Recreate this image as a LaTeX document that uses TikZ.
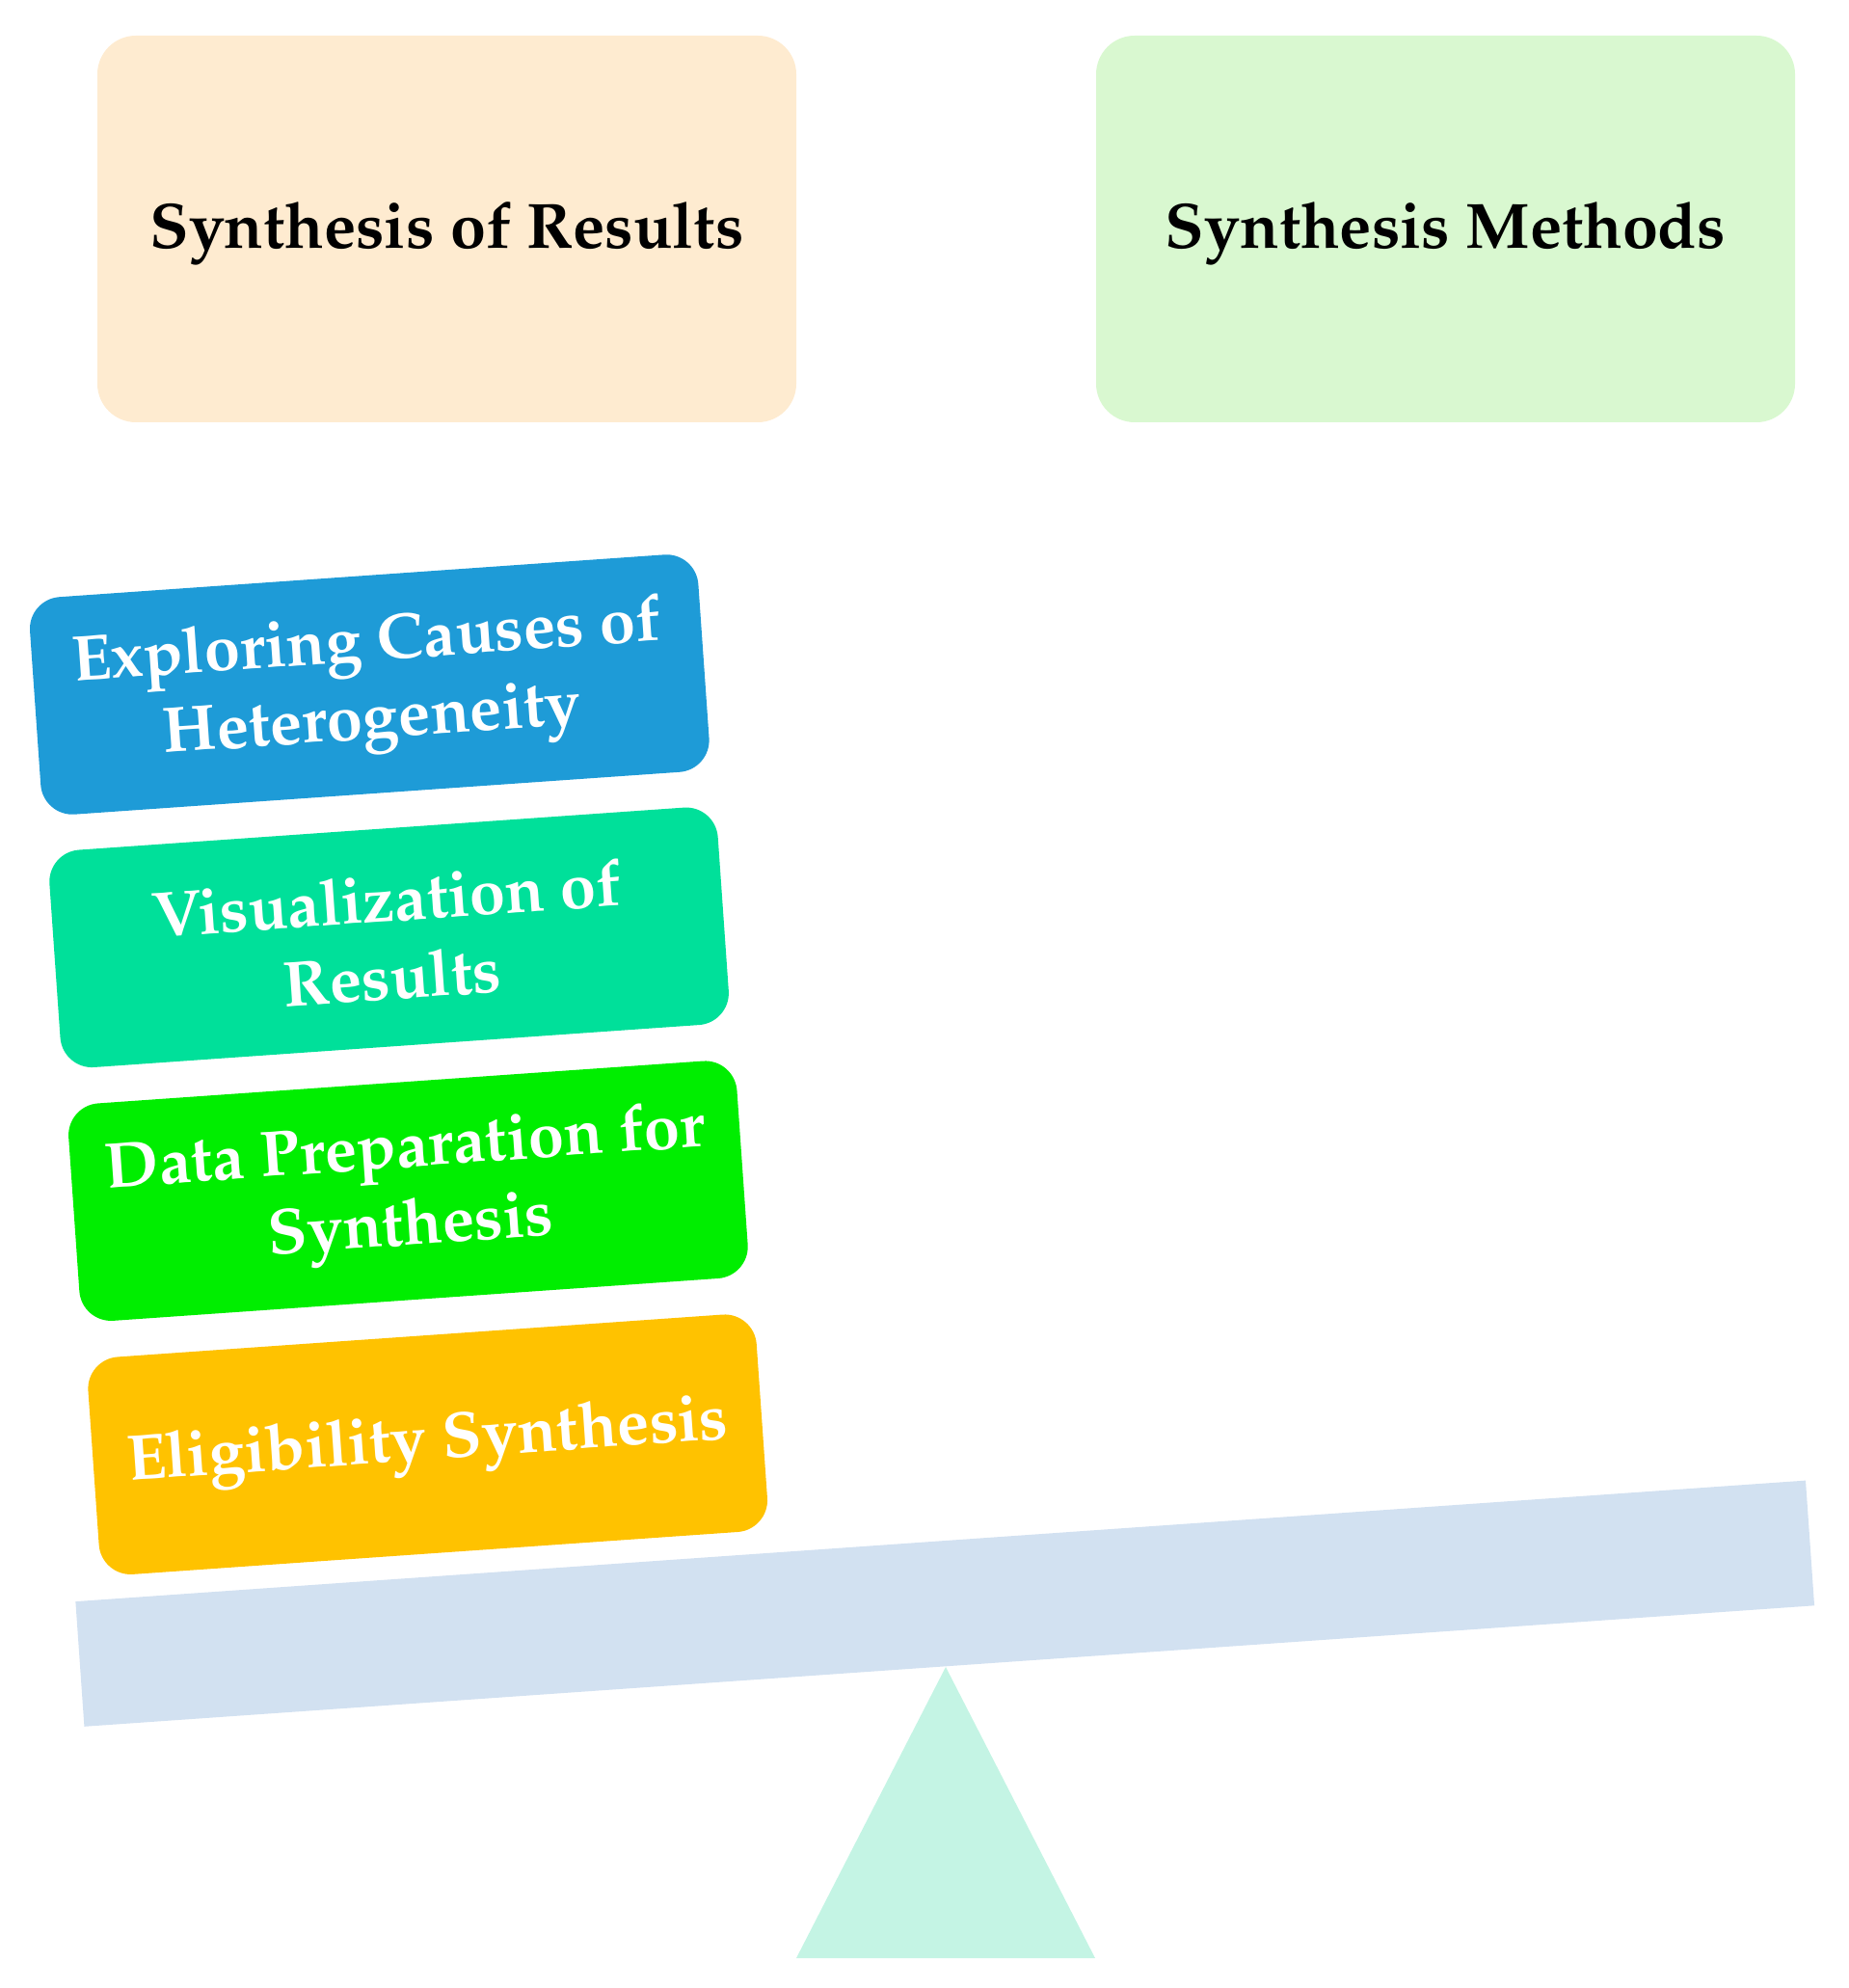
\documentclass[tikz,border=0pt]{standalone}
\usepackage[T1]{fontenc}
\renewcommand{\rmdefault}{ppl}
\definecolor{peach}{RGB}{254,235,208}
\definecolor{mint}{RGB}{217,248,208}
\definecolor{cblue}{RGB}{30,155,215}
\definecolor{cteal}{RGB}{0,224,154}
\definecolor{cgreen}{RGB}{0,238,0}
\definecolor{camber}{RGB}{255,194,0}
\definecolor{beamc}{RGB}{210,225,241}
\definecolor{trianglec}{RGB}{196,244,228}
\tikzset{
  topbox/.style={rounded corners=0.4cm, minimum width=7.25cm, minimum height=4.01cm,
    font=\fontsize{18.9}{22.8}\selectfont\bfseries, text=black, inner sep=0pt, align=center},
  toplabel/.style={font=\fontsize{18.9}{22.8}\selectfont\bfseries, text=black, inner sep=0pt},
  stackbox/.style={rounded corners=0.33cm, minimum width=6.95cm, minimum height=2.26cm,
    rotate=4, font=\fontsize{19}{23}\selectfont\bfseries, text=white, inner sep=0pt, align=center},
}
\begin{document}
\begin{tikzpicture}
\useasboundingbox (0,0) rectangle (19.17,-20.62);
% fulcrum
\fill[trianglec] (9.81,-17.29) -- (11.36,-20.31) -- (8.26,-20.31) -- cycle;
% beam
\node[fill=beamc, rotate=4, minimum width=17.99cm, minimum height=1.30cm, inner sep=0pt] (beam) at (9.802,-16.632) {};
% top boxes
\node[topbox, fill=peach] (results) at (4.635,-2.375) {};
\node[toplabel] (resultslabel) at (4.635,-2.42) {Synthesis of Results};
\node[topbox, fill=mint] (methods) at (14.995,-2.375) {};
\node[toplabel] (methodslabel) at (14.995,-2.42) {Synthesis Methods};
% stacked boxes
\node[stackbox, fill=cblue] (explore) at (3.833,-7.100) {Exploring Causes of\\Heterogeneity};
\node[stackbox, fill=cteal] (visual) at (4.036,-9.723) {Visualization of\\Results};
\node[stackbox, fill=cgreen] (dataprep) at (4.234,-12.352) {Data Preparation for\\Synthesis};
\node[stackbox, fill=camber] (elig) at (4.437,-14.982) {Eligibility Synthesis};
\end{tikzpicture}
\end{document}
